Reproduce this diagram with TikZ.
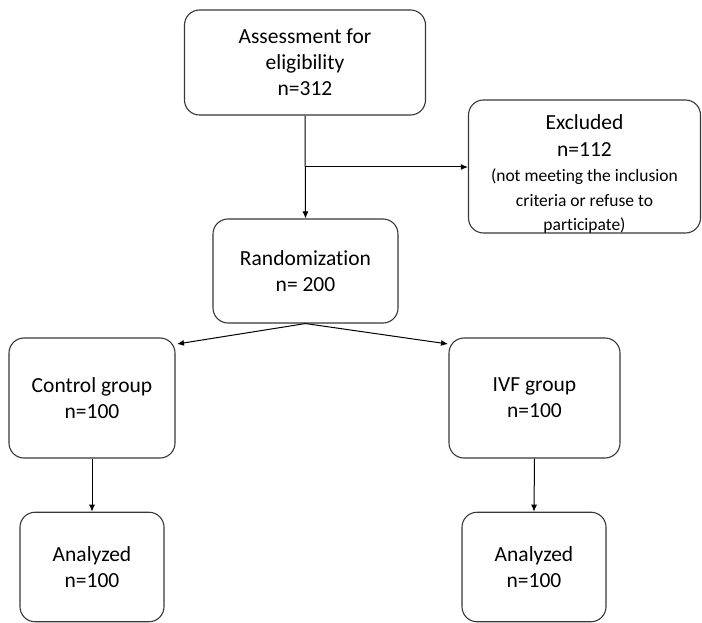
\documentclass[tikz,border=0pt]{standalone}
\usepackage{fontspec}
\setmainfont{Carlito}[Ligatures=NoCommon]
\usetikzlibrary{arrows.meta}
\begin{document}
\begin{tikzpicture}[x=1pt,y=-1pt,
  box/.style={draw=black!78, line width=1.1pt, rounded corners=15pt, align=center,
    inner sep=0pt, font=\fontsize{21.5}{26}\selectfont},
  big/.style={anchor=base, inner sep=0pt, font=\fontsize{21.5}{26}\selectfont},
  small/.style={anchor=base, inner sep=0pt, font=\fontsize{17.5}{24}\selectfont},
  arr/.style={draw=black, line width=1pt, -{Latex[length=7pt,width=6pt]}}]
\useasboundingbox (0,0) rectangle (702,623);
\node[box, minimum width=241pt, minimum height=105pt] (assess) at (305,62.5)
  {Assessment for\\eligibility\\n=312};
\node[box, minimum width=232pt, minimum height=133pt] (excl) at (584.5,166.5) {};
\node[big] (e1) at (584.5,130) {Excluded};
\node[big] (e2) at (584.5,157) {n=112};
\node[small] (e3) at (584.5,182) {(not meeting the inclusion};
\node[small] (e4) at (584.5,206.5) {criteria or refuse to};
\node[small] (e5) at (584.5,230) {participate)};
\node[box, minimum width=185pt, minimum height=104pt] (rand) at (305.5,271)
  {Randomization\\n= 200};
\node[box, minimum width=166pt, minimum height=120pt] (ctrl) at (92,398)
  {Control group\\n=100};
\node[box, minimum width=171pt, minimum height=120pt] (ivf) at (534.5,398)
  {IVF group\\n=100};
\node[box, minimum width=144pt, minimum height=109.5pt] (anl) at (92,567)
  {Analyzed\\n=100};
\node[box, minimum width=144pt, minimum height=109.5pt] (anr) at (534,567)
  {Analyzed\\n=100};
\draw[arr] (assess.south) -- (rand.north);
\coordinate (br) at (305,167);
\draw[arr] (br) -- (excl.west |- br);
\coordinate (ctip) at (177,344);
\coordinate (itip) at (448,344);
\draw[arr] (rand.south) -- (ctip);
\draw[arr] (rand.south) -- (itip);
\draw[arr] (ctrl.south) -- (anl.north);
\draw[arr] (ivf.south) -- (anr.north);
\end{tikzpicture}
\end{document}
